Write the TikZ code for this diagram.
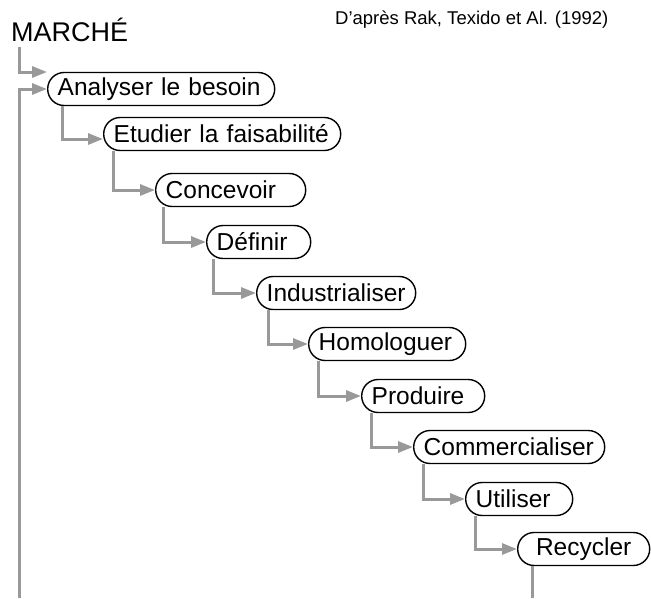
\documentclass[tikz,border=0pt]{standalone}
\usepackage{fontspec}
\setmainfont{Liberation Sans}
\usetikzlibrary{arrows.meta,calc}
\definecolor{linegray}{HTML}{999999}
\begin{document}
\begin{tikzpicture}[x=1pt,y=-1pt,
  stage/.style={draw=black, line width=1.4pt, rounded corners=16.4pt,
    minimum height=33pt, anchor=west, inner xsep=10pt, inner ysep=0pt,
    align=left, font=\fontsize{24.5}{26}\selectfont},
  conn/.style={draw=linegray, line width=3pt,
    -{Triangle[length=15pt,width=11pt]}},
  plain/.style={draw=linegray, line width=3pt},
  title/.style={anchor=west, inner sep=0pt}]
\useasboundingbox (0,0) rectangle (651,598);

\node[title, font=\fontsize{27}{29}\selectfont] (marche) at (11,30) {MARCHÉ};
\node[title, font=\fontsize{18.5}{20}\selectfont] (src) at (335,20) {D'après Rak, Texido et Al. (1992)};

\node[stage, text width=207pt] (a1) at (47,89) {Analyser le besoin};
\node[stage, text width=217pt] (a2) at (103,134) {Etudier la faisabilité};
\node[stage, text width=130pt] (a3) at (155,190) {Concevoir};
\node[stage, text width=84pt] (a4) at (206,242) {Définir};
\node[stage, text width=139pt] (a5) at (256,293) {Industrialiser};
\node[stage, text width=137pt] (a6) at (308,344) {Homologuer};
\node[stage, text width=103pt] (a7) at (361,396) {Produire};
\node[stage, text width=171pt] (a8) at (413,447) {Commercialiser};
\node[stage, text width=87pt] (a9) at (465,499) {Utiliser};
\node[stage, text width=112pt, align=center] (a10) at (517,549) {Recycler};

\coordinate (m0) at (19,47);
\coordinate (fb0) at (19,598);
\coordinate (rc1) at (532,598);

\draw[conn] (m0) |- ($(a1.west)+(0,-17)$);
\draw[conn] (fb0) |- (a1.west);
\draw[conn] ($(a1.south west)+(15,0)$) |- ($(a2.west)+(0,5)$);
\draw[conn] ($(a2.south west)+(10,0)$) |- (a3.west);
\draw[conn] ($(a3.south west)+(8,0)$) |- (a4.west);
\draw[conn] ($(a4.south west)+(7,0)$) |- (a5.west);
\draw[conn] ($(a5.south west)+(12,0)$) |- (a6.west);
\draw[conn] ($(a6.south west)+(10,0)$) |- (a7.west);
\draw[conn] ($(a7.south west)+(10,0)$) |- (a8.west);
\draw[conn] ($(a8.south west)+(10,0)$) |- (a9.west);
\draw[conn] ($(a9.south west)+(10,0)$) |- (a10.west);
\draw[plain] ($(a10.south west)+(15,0)$) -- (rc1);
\end{tikzpicture}
\end{document}
